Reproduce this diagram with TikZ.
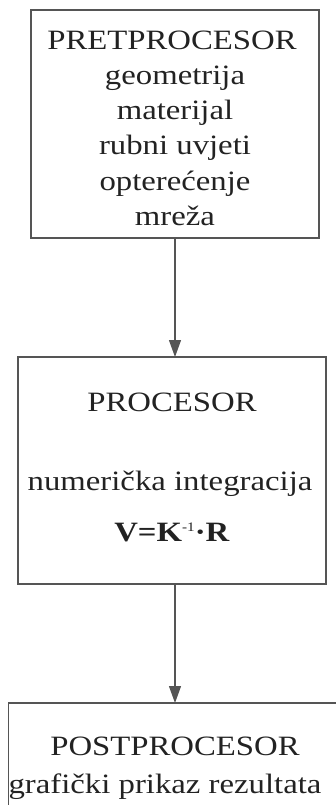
\documentclass[tikz,border=0pt]{standalone}
\usepackage{fontspec}
\setmainfont[FakeStretch=1.17]{Liberation Serif}
\usetikzlibrary{arrows.meta}
\definecolor{ink}{HTML}{222222}
\definecolor{edge}{HTML}{555555}
\tikzset{
  boxnode/.style={draw=edge, line width=1.4pt, inner sep=0pt, outer sep=0pt, fill=none},
  txt/.style={anchor=base, inner sep=0pt, text=ink, font=\fontsize{28}{34}\selectfont},
  arr/.style={draw=edge, line width=1.2pt, -{Triangle[length=17pt,width=12pt]}},
}
\begin{document}
\begin{tikzpicture}[x=1pt,y=1pt]
\useasboundingbox (0,0) rectangle (335,-805);
% boxes
\node[boxnode, minimum width=288, minimum height=228] (b1) at (175,-124) {};
\node[boxnode, minimum width=308, minimum height=227] (b2) at (172,-470.5) {};
\node[boxnode, minimum width=340, minimum height=140] (b3) at (178.5,-773) {};
% texts box 1
\node[txt] (t11) at (172,-50) {PRETPROCESOR};
\node[txt] (t12) at (175,-85) {geometrija};
\node[txt] (t13) at (175,-120) {materijal};
\node[txt] (t14) at (175,-155) {rubni uvjeti};
\node[txt] (t15) at (175,-190) {opterećenje};
\node[txt] (t16) at (175,-225) {mreža};
% texts box 2
\node[txt] (t21) at (172,-411) {PROCESOR};
\node[txt] (t22) at (170,-490) {numerička integracija};
\node[txt] (t23) at (172,-541) {\textbf{V=K}\raisebox{10pt}{\fontsize{13}{13}\selectfont -1}\textbf{·R}};
% texts box 3
\node[txt] (t31) at (175,-755) {POSTPROCESOR};
\node[txt] (t32) at (165,-793) {grafički prikaz rezultata};
% arrows
\draw[arr] (b1.south) -- (b1.south |- b2.north);
\draw[arr] (b1.south |- b2.south) -- (b1.south |- b3.north);
\end{tikzpicture}
\end{document}
